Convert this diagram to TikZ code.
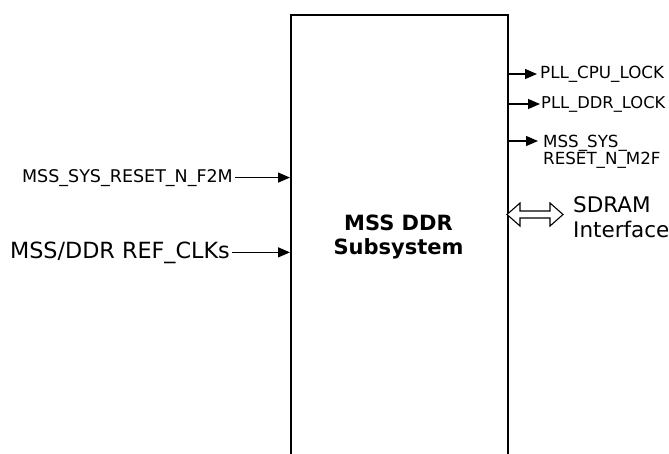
\documentclass[tikz,border=0pt]{standalone}
\usepackage{fontspec}
\setmainfont{DejaVu Sans}
\usetikzlibrary{arrows.meta}
\tikzset{
  arr/.style={line width=1.2pt, -{Triangle[length=12pt,width=10pt]}},
  smalllbl/.style={font=\fontsize{16.7}{17}\selectfont, inner sep=2pt},
  biglbl/.style={font=\fontsize{21.5}{25}\selectfont, inner sep=2pt, align=left},
  blockbox/.style={draw, line width=1.8pt, minimum width=217pt, minimum height=470pt, anchor=north west, inner sep=0pt},
  hollow/.style={draw, line width=1.1pt, fill=white}
}
\begin{document}
\begin{tikzpicture}[x=1pt,y=-1pt]
\clip (0,0) rectangle (669,453);
\fill[white] (0,0) rectangle (669,453);
% main block (open at the bottom, runs past the frame)
\node[blockbox] (box) at (290,14) {};
\node[font=\fontsize{21}{24.5}\selectfont\bfseries, align=center] (title) at (398.5,237) {MSS DDR\\Subsystem};
% left inputs
\node[smalllbl, anchor=base east, font=\fontsize{17.5}{18}\selectfont] (rst) at (235,182) {MSS\_SYS\_RESET\_N\_F2M};
\node[biglbl, anchor=base east, font=\fontsize{22.3}{25}\selectfont] (clk) at (232,258) {MSS/DDR REF\_CLKs};
\draw[arr] (rst.east) -- (rst.east -| box.west);
\draw[arr] (clk.east) -- (clk.east -| box.west);
% right outputs
\node[smalllbl, anchor=west, inner sep=3pt] (cpu) at (537,74) {PLL\_CPU\_LOCK};
\node[smalllbl, anchor=west, inner sep=1pt, font=\fontsize{16.3}{17}\selectfont] (ddr) at (540,104) {PLL\_DDR\_LOCK};
\node[smalllbl, anchor=west, align=left] (m2f) at (541,152) {MSS\_SYS\_\\RESET\_N\_M2F};
\coordinate (m2ftip) at (538,141);
\draw[arr] (cpu.west -| box.east) -- (cpu.west);
\draw[arr] (ddr.west -| box.east) -- (ddr.west);
\draw[arr] (m2ftip -| box.east) -- (m2ftip);
% SDRAM interface (hollow double arrow)
\coordinate (dl) at (507,214.5);
\coordinate (dr) at (563,214.5);
\draw[hollow] (dl) -- (520,203) -- (520,211) -- (550,211) -- (550,203) -- (dr)
   -- (550,226) -- (550,218) -- (520,218) -- (520,226) -- cycle;
\node[biglbl, anchor=west] (sdram) at (571,217) {SDRAM\\Interface};
\end{tikzpicture}
\end{document}
